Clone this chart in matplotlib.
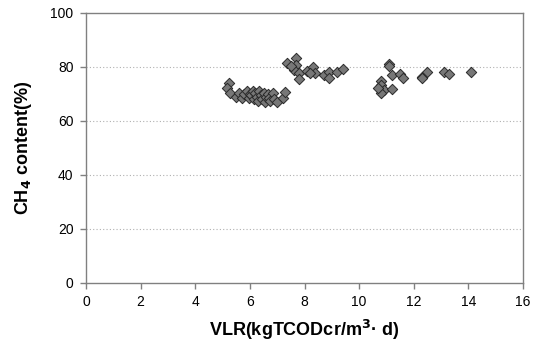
import matplotlib
matplotlib.use("Agg")
import matplotlib.pyplot as plt

plt.rcParams['font.family'] = ['Liberation Sans', 'DejaVu Sans']

vlr = [5.24, 5.16, 5.27, 5.5, 5.6, 5.7, 5.8, 5.9, 5.95, 6.0, 6.05, 6.1, 6.15, 6.2, 6.25, 6.3,
       6.35, 6.4, 6.45, 6.5, 6.55, 6.6, 6.65, 6.7, 6.75, 6.85, 6.9, 7.0, 7.2, 7.3,
       7.36, 7.7, 7.7, 7.6, 7.8, 7.8, 8.1, 8.3, 8.4, 8.2, 8.7, 8.9, 8.9, 9.2, 9.4, 7.5,
       11.1, 11.1, 11.2, 11.5, 11.6, 10.8, 10.8, 10.9, 10.8, 11.2, 10.7,
       12.5, 12.3, 12.3, 13.1, 13.3, 14.1]
ch4 = [74.1, 72.3, 70.4, 69.0, 70.5, 68.5, 70.0, 71.0, 68.5, 70.0, 69.5, 71.0, 68.0, 70.5, 69.0, 67.5,
       71.0, 69.5, 68.0, 70.5, 67.2, 69.0, 70.0, 68.5, 67.5, 70.5, 68.0, 67.0, 68.5, 70.7,
       81.5, 83.3, 80.7, 78.9, 77.8, 75.6, 78.5, 80.0, 77.8, 77.8, 77.0, 78.1, 75.9, 78.1, 79.3, 80.4,
       81.1, 80.4, 77.0, 77.4, 75.9, 74.8, 73.3, 71.5, 70.4, 71.9, 72.2,
       78.1, 76.3, 75.9, 78.1, 77.4, 78.1]

xticks = [0, 2, 4, 6, 8, 10, 12, 14, 16]
yticks = [0, 20, 40, 60, 80, 100]

fig = plt.figure(figsize=(5.39, 3.46), dpi=100)
ax = fig.add_axes([86/539, 1 - 283/346, (523-86)/539, (283-13)/346])

ax.scatter(vlr, ch4, marker='D', s=28, facecolor='#777777', edgecolor='#2a2a2a',
           linewidths=0.7, zorder=3)

ax.set_xlim(0, 16)
ax.set_ylim(0, 100)
ax.set_xticks(xticks)
ax.set_yticks(yticks)
for y in [20, 40, 60, 80]:
    ax.axhline(y, color='#b0b0b0', linestyle=(0, (1, 2)), linewidth=0.8, zorder=1)

for s in ax.spines.values():
    s.set_color('#808080')
    s.set_linewidth(1.0)
ax.tick_params(direction='out', length=4, width=1, color='#808080', labelsize=10, pad=5)

ax.set_xlabel('VLR(kgTCODcr/m$^{\\mathbf{3}}$· d)', fontsize=13, fontweight='bold', labelpad=6)
ax.set_ylabel('CH$_{\\mathbf{4}}$ content(%)', fontsize=13, fontweight='bold', labelpad=12)

fig.savefig('out.png', dpi=100)
